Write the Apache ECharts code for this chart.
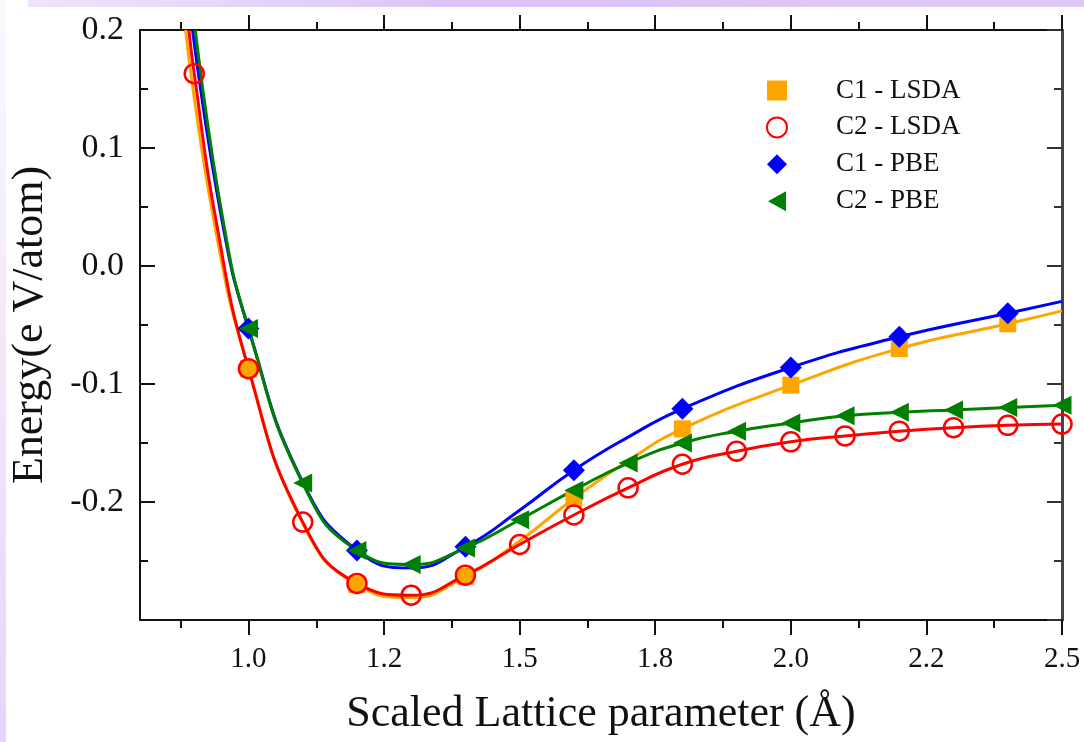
<!DOCTYPE html>
<html>
<head>
<meta charset="utf-8">
<script src="https://cdn.jsdelivr.net/npm/echarts@6/dist/echarts.min.js"></script>
<style>
  html, body { margin: 0; padding: 0; background: #ffffff; }
  #wrap { position: relative; width: 1084px; height: 742px; overflow: hidden; background: #ffffff; }
  #topStrip { position: absolute; left: 28px; top: 0; width: 1056px; height: 7px;
    background: linear-gradient(to right, #efe4fb, #dcc5f6 40%, #dec8f7); }
  #leftStrip { position: absolute; left: 0; top: 0; width: 6px; height: 742px;
    background: linear-gradient(to bottom, #fbf8fe, #efe3fa 60%, #e6d4f8); }
  #chart { position: absolute; left: 0; top: 0; width: 1084px; height: 742px; }
</style>
</head>
<body>
<div id="wrap">
  <div id="topStrip"></div>
  <div id="leftStrip"></div>
  <div id="chart"></div>
</div>
<script>
// ---- data ----
const seriesNames = ['C1 - LSDA', 'C2 - LSDA', 'C1 - PBE', 'C2 - PBE'];

// marker data
const xC1 = [1.0, 1.2, 1.4, 1.6, 1.8, 2.0, 2.2, 2.4];
const c1Lsda = [-0.087, -0.270, -0.263, -0.197, -0.138, -0.101, -0.070, -0.049];
const c1Pbe  = [-0.053, -0.241, -0.238, -0.173, -0.121, -0.086, -0.060, -0.040];

const xC2Lsda = [0.9, 1.0, 1.1, 1.2, 1.3, 1.4, 1.5, 1.6, 1.7, 1.8, 1.9, 2.0, 2.1, 2.2, 2.3, 2.4, 2.5];
const c2Lsda  = [0.163, -0.087, -0.217, -0.269, -0.279, -0.262, -0.236, -0.211, -0.188, -0.168, -0.157, -0.149, -0.144, -0.140, -0.137, -0.135, -0.134];

const xC2Pbe = [1.0, 1.1, 1.2, 1.3, 1.4, 1.5, 1.6, 1.7, 1.8, 1.9, 2.0, 2.1, 2.2, 2.3, 2.4, 2.5];
const c2Pbe  = [-0.053, -0.184, -0.241, -0.253, -0.239, -0.215, -0.190, -0.167, -0.150, -0.140, -0.133, -0.127, -0.124, -0.122, -0.120, -0.118];

// fitted curves
const fitC1LsdaX = [0.884, 0.936, 1.0, 1.1, 1.2, 1.3, 1.4, 1.5, 1.6, 1.7, 1.8, 2.0, 2.2, 2.4, 2.5];
const fitC1LsdaY = [0.2, 0.039, -0.087, -0.218, -0.270, -0.281, -0.263, -0.233, -0.197, -0.165, -0.138, -0.101, -0.070, -0.049, -0.038];
const fitC2LsdaX = [0.890, 0.9, 0.94, 1.0, 1.1, 1.2, 1.3, 1.4, 1.5, 1.6, 1.7, 1.8, 1.9, 2.0, 2.1, 2.2, 2.3, 2.4, 2.5];
const fitC2LsdaY = [0.2, 0.163, 0.039, -0.087, -0.217, -0.269, -0.279, -0.262, -0.236, -0.211, -0.188, -0.168, -0.157, -0.149, -0.144, -0.140, -0.137, -0.135, -0.134];
const fitC1PbeX = [0.897, 0.951, 1.0, 1.1, 1.2, 1.3, 1.4, 1.5, 1.6, 1.7, 1.8, 2.0, 2.2, 2.4, 2.5];
const fitC1PbeY = [0.2, 0.039, -0.053, -0.183, -0.241, -0.256, -0.238, -0.207, -0.173, -0.145, -0.121, -0.086, -0.060, -0.040, -0.030];
const fitC2PbeX = [0.902, 0.953, 1.0, 1.1, 1.2, 1.3, 1.4, 1.5, 1.6, 1.7, 1.8, 1.9, 2.0, 2.1, 2.2, 2.3, 2.4, 2.5];
const fitC2PbeY = [0.2, 0.039, -0.053, -0.184, -0.241, -0.253, -0.239, -0.215, -0.190, -0.167, -0.150, -0.140, -0.133, -0.127, -0.124, -0.122, -0.120, -0.118];

// axis ticks / labels
const xMajorTicks = [1.0, 1.25, 1.5, 1.75, 2.0, 2.25, 2.5];
const xTickLabels = ['1.0', '1.2', '1.5', '1.8', '2.0', '2.2', '2.5'];
const xMinorTicks = [0.875, 1.125, 1.375, 1.625, 1.875, 2.125, 2.375];
const yLabelValues = [-0.2, -0.1, 0.0, 0.1, 0.2];
const yTickLabels = ['-0.2', '-0.1', '0.0', '0.1', '0.2'];

const xTitle = 'Scaled Lattice parameter (Å)';
const yTitle = 'Energy(e V/atom)';

const colors = ['#FFA500', '#FF0000', '#0000FF', '#008000'];

// ---- build ----
const zip = (xs, ys) => xs.map((x, i) => [x, ys[i]]);
const FONT = '"Liberation Serif", "DejaVu Serif", serif';
const X_MIN = 0.8, X_MAX = 2.5, Y_MIN = -0.3, Y_MAX = 0.2;

function xAxisDef(pos, ticks, len, withLabels, showLine) {
  return {
    type: 'value', position: pos, min: X_MIN, max: X_MAX,
    axisLine: { show: showLine, onZero: false, lineStyle: { color: '#111', width: 2 } },
    axisTick: { show: true, inside: false, length: len, customValues: ticks,
      lineStyle: { color: '#111', width: 2 } },
    axisLabel: withLabels ? {
      show: true, customValues: xMajorTicks, margin: 25,
      fontFamily: FONT, fontSize: 29, color: '#111',
      formatter: (v) => { const i = xMajorTicks.findIndex(t => Math.abs(t - v) < 1e-6); return i >= 0 ? xTickLabels[i] : ''; }
    } : { show: false },
    splitLine: { show: false },
    name: withLabels ? xTitle : '',
    nameLocation: 'middle', nameGap: 72,
    nameTextStyle: { fontFamily: FONT, fontSize: 44, color: '#111' }
  };
}

const lineSeries = (name, data, color) => ({
  type: 'line', name, data, smooth: 0.5, showSymbol: false, symbol: 'none',
  lineStyle: { color, width: 3 }, z: 2, silent: true
});

const option = {
  backgroundColor: 'transparent',
  animation: false,
  grid: { left: 137, right: 22, top: 30, bottom: 122, containLabel: false },
  legend: {
    orient: 'vertical', left: 766, top: 77, padding: 0,
    itemWidth: 20, itemHeight: 20, itemGap: 9.9,
    data: [
      { name: seriesNames[0] },
      { name: seriesNames[1] },
      { name: seriesNames[2] },
      { name: seriesNames[3], icon: 'path://M0,5 L9,0 L9,10 Z' }
    ],
    textStyle: { fontFamily: FONT, fontSize: 27, color: '#111', padding: [0, 0, 0, 44], lineHeight: 20 }
  },
  xAxis: [
    xAxisDef('bottom', xMajorTicks, 15, true, true),
    xAxisDef('bottom', xMinorTicks, 8, false, false),
    xAxisDef('top', xMajorTicks, 15, false, true),
    xAxisDef('top', xMinorTicks, 8, false, false)
  ],
  yAxis: [
    {
      type: 'value', position: 'left', min: Y_MIN, max: Y_MAX, interval: 0.1,
      axisLine: { show: true, onZero: false, lineStyle: { color: '#111', width: 2 } },
      axisTick: { show: true, inside: true, length: 15, lineStyle: { color: '#111', width: 2 } },
      minorTick: { show: true, splitNumber: 2, length: 8, lineStyle: { color: '#111', width: 2 } },
      axisLabel: {
        show: true, customValues: yLabelValues, margin: 16,
        fontFamily: FONT, fontSize: 34, color: '#111',
        formatter: (v) => { const i = yLabelValues.findIndex(t => Math.abs(t - v) < 1e-6); return i >= 0 ? yTickLabels[i] : ''; }
      },
      splitLine: { show: false }, minorSplitLine: { show: false },
      name: yTitle, nameLocation: 'middle', nameGap: 88, nameRotate: 90,
      nameTextStyle: { fontFamily: FONT, fontSize: 44, color: '#111' }
    },
    {
      type: 'value', position: 'right', min: Y_MIN, max: Y_MAX, interval: 0.1,
      axisLine: { show: true, onZero: false, lineStyle: { color: '#444', width: 3 } },
      axisTick: { show: true, inside: true, length: 15, lineStyle: { color: '#333', width: 2 } },
      minorTick: { show: true, splitNumber: 2, length: 8, lineStyle: { color: '#333', width: 2 } },
      axisLabel: { show: false },
      splitLine: { show: false }, minorSplitLine: { show: false }
    }
  ],
  series: [
    // fitted curves
    lineSeries('fit1', zip(fitC1LsdaX, fitC1LsdaY), colors[0]),
    lineSeries('fit2', zip(fitC2LsdaX, fitC2LsdaY), colors[1]),
    lineSeries('fit3', zip(fitC1PbeX, fitC1PbeY), colors[2]),
    lineSeries('fit4', zip(fitC2PbeX, fitC2PbeY), colors[3]),
    // markers
    { type: 'scatter', name: seriesNames[0], data: zip(xC1, c1Lsda), symbol: 'rect', symbolSize: 17,
      itemStyle: { color: colors[0], opacity: 1 }, z: 3 },
    { type: 'scatter', name: seriesNames[1], data: zip(xC2Lsda, c2Lsda), symbol: 'circle', symbolSize: 19,
      itemStyle: { color: 'rgba(255,255,255,0)', borderColor: colors[1], borderWidth: 2.5, opacity: 1 }, z: 4 },
    { type: 'scatter', name: seriesNames[2], data: zip(xC1, c1Pbe), symbol: 'diamond', symbolSize: 22,
      itemStyle: { color: colors[2], opacity: 1 }, z: 5 },
    { type: 'scatter', name: seriesNames[3], data: zip(xC2Pbe, c2Pbe), symbol: 'triangle', symbolSize: 19, symbolRotate: 90,
      itemStyle: { color: colors[3], opacity: 1 }, z: 6 }
  ]
};

const chart = echarts.init(document.getElementById('chart'), null, { renderer: 'canvas' });
chart.setOption(option);
</script>
</body>
</html>
